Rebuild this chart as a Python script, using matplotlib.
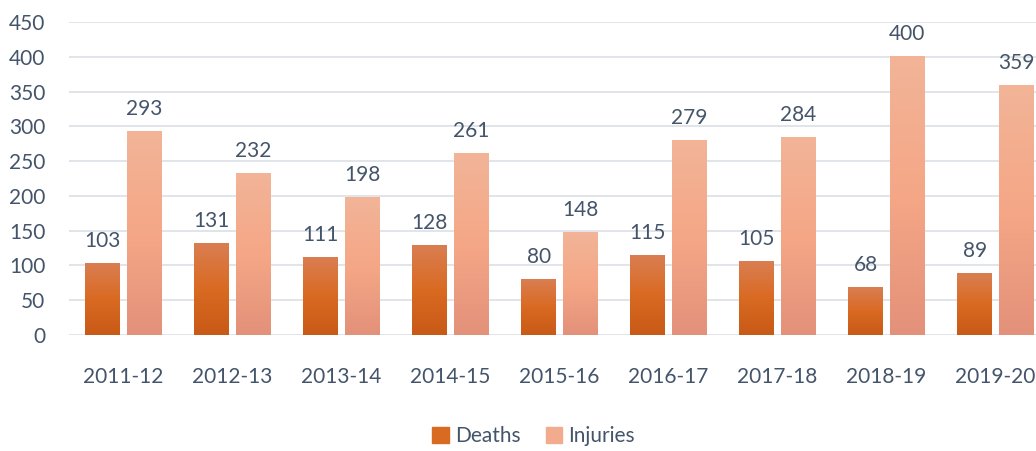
import matplotlib.pyplot as plt
import numpy as np
from matplotlib.colors import LinearSegmentedColormap
from matplotlib.patches import Patch

years = ['2011-12', '2012-13', '2013-14', '2014-15', '2015-16',
         '2016-17', '2017-18', '2018-19', '2019-20']
deaths = [103, 131, 111, 128, 80, 115, 105, 68, 89]
injuries = [293, 232, 198, 261, 148, 279, 284, 400, 359]

txt = '#44546A'
plt.rcParams['font.family'] = ['Lato', 'DejaVu Sans']

death_cmap = LinearSegmentedColormap.from_list('d', ['#C85A17', '#D96A22', '#DA7E52'])
inj_cmap = LinearSegmentedColormap.from_list('i', ['#E3917A', '#F5A786', '#F2B498'])

fig = plt.figure(figsize=(10.36, 4.51), dpi=100)
ax = fig.add_axes([69/1036, 116/451, 981/1036, 313/451])

x = np.arange(len(years))
w = 0.32
off = 0.19


def grad_bars(xs, vals, cmap):
    bars = ax.bar(xs, vals, w, color='none', zorder=3)
    grad = np.linspace(0, 1, 256).reshape(-1, 1)
    for b in bars:
        x0, y0 = b.get_x(), b.get_y()
        ax.imshow(grad, cmap=cmap, origin='lower', aspect='auto',
                  extent=(x0, x0 + b.get_width(), y0, y0 + b.get_height()),
                  zorder=3)
    for xi, v in zip(xs, vals):
        ax.annotate(str(v), (xi, v), xytext=(0, 9), textcoords='offset points',
                    ha='center', va='bottom', fontsize=15, color=txt)


grad_bars(x - off, deaths, death_cmap)
grad_bars(x + off, injuries, inj_cmap)

ax.set_xlim(-0.5, len(years) - 0.5)
ax.set_ylim(0, 450)
ax.set_yticks(range(0, 451, 50))
ax.set_xticks(x)
ax.set_xticklabels(years)
ax.grid(axis='y', color='#E1E4E9', linewidth=1.4, zorder=0)
ax.set_axisbelow(True)
for s in ax.spines.values():
    s.set_visible(False)
ax.tick_params(length=0, labelsize=15, labelcolor=txt)
ax.tick_params(axis='y', pad=17)
ax.tick_params(axis='x', pad=23)

handles = [Patch(color='#D96A22', label='Deaths'),
           Patch(color='#F2AB8C', label='Injuries')]
fig.legend(handles=handles, loc='lower center', bbox_to_anchor=(0.515, -0.03),
           ncol=2, frameon=False, fontsize=15, labelcolor=txt,
           handlelength=0.8, handleheight=0.8, handletextpad=0.3, columnspacing=1.2)

fig.savefig('out.png', dpi=100)
